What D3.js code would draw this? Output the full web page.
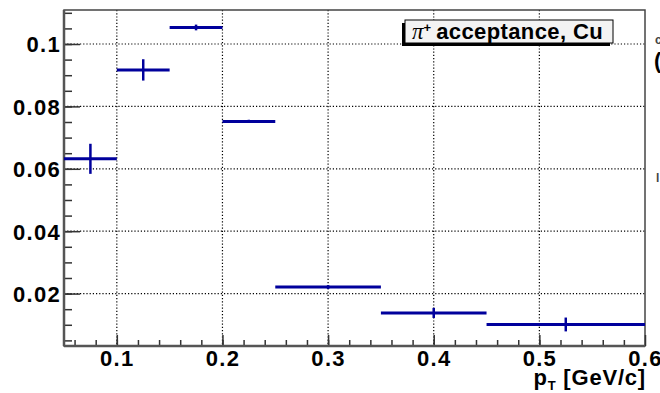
<!DOCTYPE html>
<html>
<head>
<meta charset="utf-8">
<script src="https://cdn.jsdelivr.net/npm/d3@7"></script>
<style>
  body { margin: 0; background: #fff; }
  svg { display: block; }
  .lbl { font-family: "Liberation Sans", Arial, sans-serif; font-weight: bold; fill: #000; }
</style>
</head>
<body>
<div id="chart"></div>
<script>
// bins in pT [GeV/c] and the acceptance measured in each
var binLo = [0.05, 0.10, 0.15, 0.20, 0.25, 0.35, 0.45];
var binHi = [0.10, 0.15, 0.20, 0.25, 0.35, 0.45, 0.60];
var ptCenter = [0.075, 0.125, 0.175, 0.225, 0.30, 0.40, 0.525];
var acceptance = [0.0632, 0.0917, 0.1053, 0.0752, 0.0221, 0.0138, 0.0101];
var accErr = [0.0045, 0.0031, 0.0006, 0.0002, 0.0003, 0.0013, 0.0019];

var xTicks = [0.1, 0.2, 0.3, 0.4, 0.5, 0.6];
var yTicks = [0.02, 0.04, 0.06, 0.08, 0.1];
var yTickLabels = ["0.02", "0.04", "0.06", "0.08", "0.1"];

var w = 660, h = 393;
var pLeft = 64, pRight = 645, pTop = 10, pBottom = 346;

var svg = d3.select("#chart").append("svg")
    .attr("width", w)
    .attr("height", h);

var x = d3.scaleLinear().domain([0.05, 0.6]).range([pLeft, pRight]);
var y = d3.scaleLinear().domain([0.0032, 0.1109]).range([pBottom, pTop]);

var data = ptCenter.map(function(d, i){
    return { x: d, lo: binLo[i], hi: binHi[i], v: acceptance[i], e: accErr[i] };
});

// dotted grid
svg.append("g").selectAll("line")
    .data(xTicks.slice(0, -1))
    .enter().append("line")
    .attr("x1", function(d){ return x(d); })
    .attr("x2", function(d){ return x(d); })
    .attr("y1", pTop).attr("y2", pBottom)
    .style("stroke", "#000").style("stroke-width", 1.2)
    .style("stroke-dasharray", "1.2,2");

svg.append("g").selectAll("line")
    .data(yTicks)
    .enter().append("line")
    .attr("x1", pLeft).attr("x2", pRight)
    .attr("y1", function(d){ return y(d); })
    .attr("y2", function(d){ return y(d); })
    .style("stroke", "#000").style("stroke-width", 1.2)
    .style("stroke-dasharray", "1.2,2");

// frame
svg.append("rect")
    .attr("x", pLeft).attr("y", pTop)
    .attr("width", pRight - pLeft).attr("height", pBottom - pTop)
    .style("fill", "none").style("stroke", "#444").style("stroke-width", 1.5);

// x axis, major + minor ticks
var xMinor = d3.range(0.06, 0.599, 0.02);
svg.append("g")
    .attr("transform", "translate(0," + pBottom + ")")
    .call(d3.axisBottom(x).tickValues(xMinor).tickSize(-6).tickFormat(""))
    .call(function(g){ g.select(".domain").remove(); })
    .selectAll("line").style("stroke", "#333").style("stroke-width", 1.5);

var xAxis = svg.append("g")
    .attr("transform", "translate(0," + pBottom + ")")
    .call(d3.axisBottom(x).tickValues(xTicks).tickSize(-11).tickPadding(0).tickFormat(d3.format(".1f")));
xAxis.select(".domain").remove();
xAxis.selectAll("line").style("stroke", "#333").style("stroke-width", 1.5);
xAxis.selectAll("text")
    .attr("class", "lbl")
    .attr("y", 19.5)
    .attr("dy", 0)
    .style("font-size", "22px")
    .style("letter-spacing", "1.3px");

// y axis
var yMinor = d3.range(0.005, 0.111, 0.005);
svg.append("g")
    .attr("transform", "translate(" + pLeft + ",0)")
    .call(d3.axisLeft(y).tickValues(yMinor).tickSize(-8).tickFormat(""))
    .call(function(g){ g.select(".domain").remove(); })
    .selectAll("line").style("stroke", "#333").style("stroke-width", 1.5);

var yAxis = svg.append("g")
    .attr("transform", "translate(" + pLeft + ",0)")
    .call(d3.axisLeft(y).tickValues(yTicks).tickSize(-16).tickPadding(0)
        .tickFormat(function(d, i){ return yTickLabels[i]; }));
yAxis.select(".domain").remove();
yAxis.selectAll("line").style("stroke", "#333").style("stroke-width", 1.5);
yAxis.selectAll("text")
    .attr("class", "lbl")
    .attr("x", -3)
    .attr("dy", "0.36em")
    .style("font-size", "22px")
    .style("letter-spacing", "1.3px");

// axis lines on top of ticks
svg.append("line").attr("x1", pLeft).attr("x2", pLeft).attr("y1", pTop).attr("y2", pBottom)
    .style("stroke", "#555").style("stroke-width", 2.5);
svg.append("line").attr("x1", pLeft).attr("x2", pRight).attr("y1", pBottom).attr("y2", pBottom)
    .style("stroke", "#555").style("stroke-width", 2.5);

// data: horizontal bin width + vertical error
var blue = "#00009c";
var pts = svg.append("g");
pts.selectAll("line.hbar")
    .data(data)
    .enter().append("line")
    .attr("class", "hbar")
    .attr("x1", function(d){ return x(d.lo); })
    .attr("x2", function(d){ return x(d.hi); })
    .attr("y1", function(d){ return y(d.v); })
    .attr("y2", function(d){ return y(d.v); })
    .style("stroke", blue).style("stroke-width", 3);

pts.selectAll("line.vbar")
    .data(data)
    .enter().append("line")
    .attr("class", "vbar")
    .attr("x1", function(d){ return x(d.x); })
    .attr("x2", function(d){ return x(d.x); })
    .attr("y1", function(d){ return y(d.v - d.e) + 1; })
    .attr("y2", function(d){ return y(d.v + d.e) - 1; })
    .style("stroke", blue).style("stroke-width", 2.5);

// axis title
var xt = svg.append("text")
    .attr("class", "lbl")
    .attr("x", 646).attr("y", 385)
    .attr("text-anchor", "end")
    .style("font-size", "22px")
    .style("letter-spacing", "0.8px");
xt.append("tspan").text("p");
xt.append("tspan").attr("dy", 5).style("font-size", "13px").text("T");
xt.append("tspan").attr("dy", -5).text(" [GeV/c]");

// legend box
var lx = 405, ly = 20, lw = 208, lh = 23;
svg.append("rect")
    .attr("x", lx - 3).attr("y", ly + 3)
    .attr("width", lw).attr("height", lh)
    .style("fill", "#000");
svg.append("rect")
    .attr("x", lx).attr("y", ly)
    .attr("width", lw).attr("height", lh)
    .style("fill", "#f3f3f3").style("stroke", "#000").style("stroke-width", 1);
var lt = svg.append("text")
    .attr("x", 412).attr("y", 38.5);
lt.append("tspan")
    .style("font-family", "'Liberation Serif', 'Times New Roman', serif")
    .style("font-style", "italic")
    .style("font-size", "23px")
    .text("\u03c0");
lt.append("tspan")
    .attr("class", "lbl")
    .attr("dy", -7)
    .style("font-size", "13px")
    .text("+");
lt.append("tspan")
    .attr("class", "lbl")
    .attr("dy", 7)
    .attr("dx", 5)
    .style("font-size", "22px")
    .style("letter-spacing", "0.4px")
    .text("acceptance, Cu");

// fragments of neighbouring text cut at the page edge
svg.append("text").attr("class", "lbl").attr("x", 655).attr("y", 44)
    .style("font-size", "12px").style("fill", "#444").text("c");
svg.append("text").attr("class", "lbl").attr("x", 654).attr("y", 68)
    .style("font-size", "22px").text("(");
svg.append("text").attr("class", "lbl").attr("x", 656).attr("y", 182)
    .style("font-size", "12px").style("fill", "#444").text("l");
</script>
</body>
</html>
